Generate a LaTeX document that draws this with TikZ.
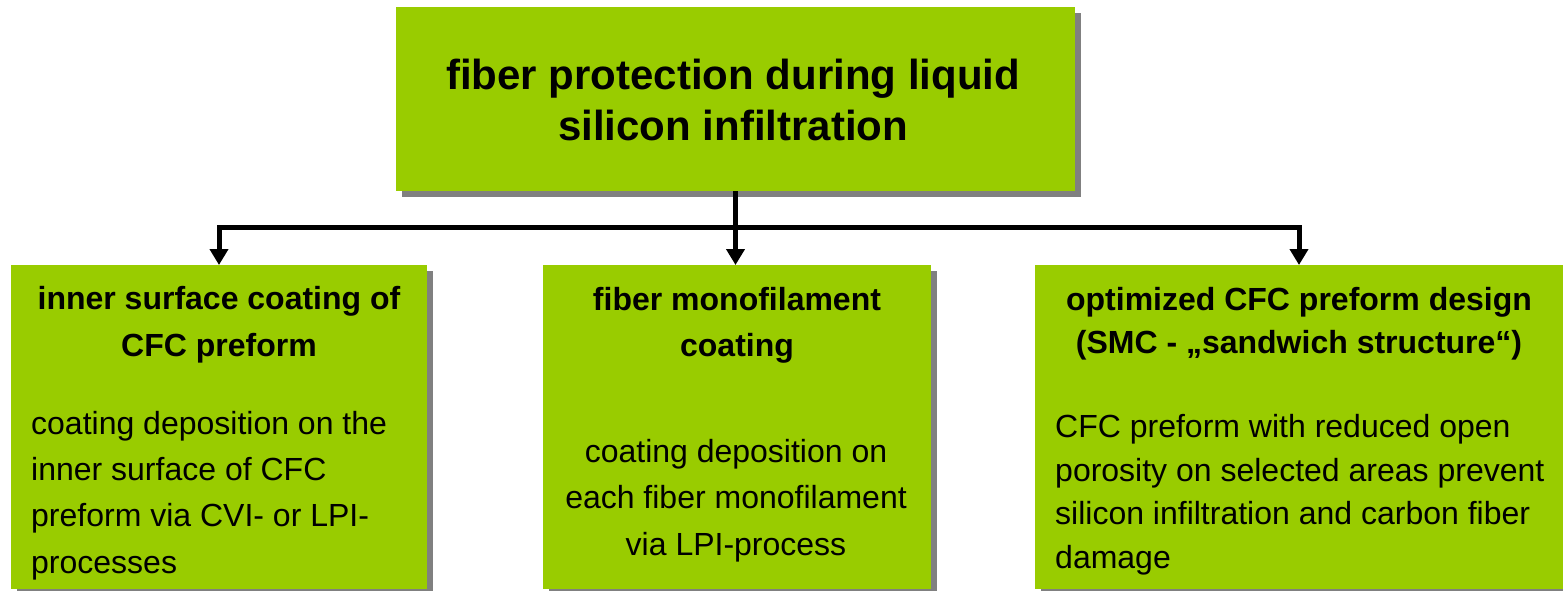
\documentclass[tikz,border=0pt]{standalone}
\usepackage{fontspec}
\setmainfont{Liberation Sans}
\usetikzlibrary{arrows.meta,shadows}
\definecolor{boxgreen}{HTML}{99CC00}
\definecolor{shadowgray}{HTML}{808080}
\begin{document}
\begin{tikzpicture}[x=1pt,y=-1pt,
  box/.style={fill=boxgreen, draw=none, inner sep=0pt, outer sep=0pt, anchor=north west,
    general shadow={fill=shadowgray, shadow xshift=6pt, shadow yshift=-6pt}},
  conn/.style={line width=5pt, draw=black, line join=miter},
  tipped/.style={{Triangle[width=18pt,length=16pt]}-{Triangle[width=18pt,length=16pt]}},
  onetip/.style={-{Triangle[width=18pt,length=16pt]}},
  titletext/.style={font=\fontsize{42}{51}\selectfont\bfseries, align=center, anchor=base, inner sep=0pt},
  headtext/.style={font=\fontsize{32}{47}\selectfont\bfseries, align=center, anchor=base, inner sep=0pt},
  bodytext/.style={font=\fontsize{32}{46.3}\selectfont, inner sep=0pt, anchor=base west, align=left}]
\useasboundingbox (0,0) rectangle (1563,590);

\node[box, minimum width=679pt, minimum height=184pt] (top) at (396,7) {};
\node[box, minimum width=416pt, minimum height=324pt] (inner) at (11,265) {};
\node[box, minimum width=388pt, minimum height=324pt] (mono) at (543,265) {};
\node[box, minimum width=528pt, minimum height=324pt] (design) at (1035,265) {};

\coordinate (bus) at (735.5,227.5);
\draw[conn, onetip] (top.south) -- (top.south |- mono.north);
\draw[conn, tipped] (inner.north) -- (bus -| inner.north) -- (bus -| design.north) -- (design.north);

% anchor=base of a multi-line node is the baseline of its last line
\node[titletext] (titleT) at (733,140) {fiber protection during liquid\\silicon infiltration};

\node[headtext] (h1) at (219,356) {inner surface coating of\\CFC preform};
\node[bodytext] (b1) at (31,573) {coating deposition on the\\inner surface of CFC\\preform via CVI- or LPI-\\processes};

\node[headtext, font=\fontsize{32}{46}\selectfont\bfseries] (h2) at (737,356) {fiber monofilament\\coating};
\node[bodytext, anchor=base, align=center] (b2) at (736,555) {coating deposition on\\each fiber monofilament\\via LPI-process};

\node[headtext, font=\fontsize{32}{43}\selectfont\bfseries] (h3) at (1299,353) {optimized CFC preform design\\(SMC - „sandwich structure“)};
\node[bodytext, font=\fontsize{32}{43.5}\selectfont] (b3) at (1055,568) {CFC preform with reduced open\\porosity on selected areas prevent\\silicon infiltration and carbon fiber\\damage};
\end{tikzpicture}
\end{document}
